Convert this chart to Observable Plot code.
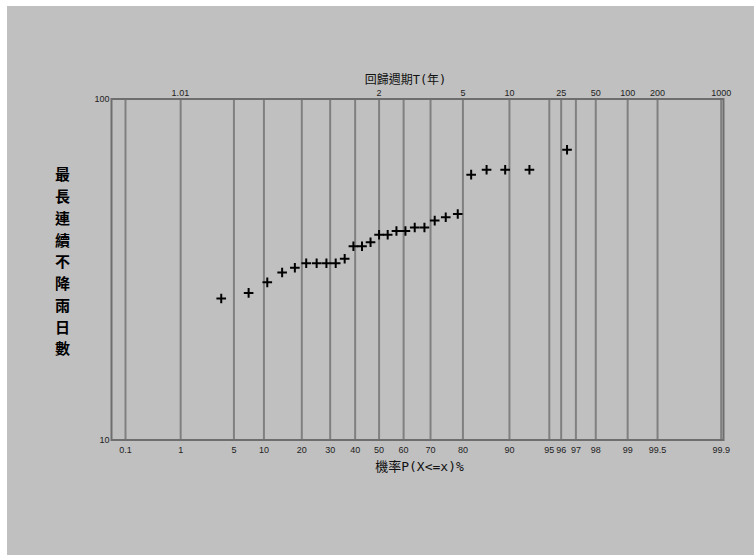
<!DOCTYPE html>
<html><head><meta charset="utf-8">
<script src="https://cdn.jsdelivr.net/npm/d3@7"></script>
<script src="https://cdn.jsdelivr.net/npm/@observablehq/plot@0.6"></script>
<style>
html,body{margin:0;padding:0;background:#fff;}
#chart{position:absolute;left:7px;top:6px;}
</style></head><body><div id="chart"></div>
<script>
// observed annual maxima of consecutive no-rain days, sorted ascending
const days = [26,27,29,31,32,33,33,33,33,34,37,37,38,40,40,41,41,42,42,44,45,46,60,62,62,62,71];
// bottom axis: non-exceedance probability (%)
const probTicks = [0.1,1,5,10,20,30,40,50,60,70,80,90,95,96,97,98,99,99.5,99.9];
const probLabels = ["0.1","1","5","10","20","30","40","50","60","70","80","90","95","96","97","98","99","99.5","99.9"];
// top axis: return period T (years)
const periodTicks = [1.01,2,5,10,25,50,100,200,1000];
const periodLabels = ["1.01","2","5","10","25","50","100","200","1000"];
// y axis
const yTicks = [10,100];
const yLabels = ["10","100"];
const xTitle = "機率P(X<=x)%";
const topTitle = "回歸週期T(年)";
const yTitle = "最長連續不降雨日數";

// inverse standard normal (Acklam)
function invNorm(p){
  const a=[-3.969683028665376e+01,2.209460984245205e+02,-2.759285104469687e+02,1.383577518672690e+02,-3.066479806614716e+01,2.506628277459239e+00];
  const b=[-5.447609879822406e+01,1.615858368580409e+02,-1.556989798598866e+02,6.680131188771972e+01,-1.328068155288572e+01];
  const c=[-7.784894002430293e-03,-3.223964580411365e-01,-2.400758277161838e+00,-2.549732539343734e+00,4.374664141464968e+00,2.938163982698783e+00];
  const d=[7.784695709041462e-03,3.224671290700398e-01,2.445134137142996e+00,3.754408661907416e+00];
  const pl=0.02425, ph=1-pl; let q,r;
  if(p<pl){q=Math.sqrt(-2*Math.log(p));return (((((c[0]*q+c[1])*q+c[2])*q+c[3])*q+c[4])*q+c[5])/((((d[0]*q+d[1])*q+d[2])*q+d[3])*q+1);}
  if(p<=ph){q=p-0.5;r=q*q;return (((((a[0]*r+a[1])*r+a[2])*r+a[3])*r+a[4])*r+a[5])*q/(((((b[0]*r+b[1])*r+b[2])*r+b[3])*r+b[4])*r+1);}
  q=Math.sqrt(-2*Math.log(1-p));return -(((((c[0]*q+c[1])*q+c[2])*q+c[3])*q+c[4])*q+c[5])/((((d[0]*q+d[1])*q+d[2])*q+d[3])*q+1);
}
// Pearson type III frequency factor (Wilson-Hilferty), skew g
const g = 0.29;
function K(p){ const z = invNorm(p); return (2/g)*(Math.pow(1 + g*z/6 - g*g/36, 3) - 1); }

const kLo = K(0.001), kHi = K(0.999);
const span = kHi - kLo;
const xDomain = [kLo - span*0.0235, kHi + span*0.0039];

const n = days.length;
const tickFont = "Liberation Sans, Arial, sans-serif";
const cjk = "DejaVu Sans Mono, 'Noto Sans CJK TC', sans-serif";

const chart = Plot.plot({
  width: 747, height: 549,
  marginLeft: 104, marginRight: 31, marginTop: 92.5, marginBottom: 115.5,
  style: {background: "#c0c0c0", overflow: "visible"},
  x: {domain: xDomain, axis: null},
  y: {type: "log", domain: [10, 100], axis: null},
  marks: [
    Plot.ruleX(probTicks, {x: d => K(d/100), y1: 10, y2: 100, stroke: "#808080", strokeWidth: 2}),
    Plot.frame({stroke: "#6e6e6e", strokeWidth: 2}),
    Plot.dot(days, {x: (d,i) => K((i+1)/(n+1)), y: d => d, symbol: "plus", r: 3.2, stroke: "#000", strokeWidth: 2}),
    Plot.text(probTicks, {x: d => K(d/100), y: 10, text: (d,i) => probLabels[i], dy: 10, fontSize: 9, fill: "#222", fontFamily: tickFont}),
    Plot.text(periodTicks, {x: T => K(1 - 1/T), y: 100, text: (d,i) => periodLabels[i], dy: -6, fontSize: 9, fill: "#222", fontFamily: tickFont}),
    Plot.text(yTicks, {y: d => d, frameAnchor: "left", textAnchor: "end", dx: -2, text: (d,i) => yLabels[i], fontSize: 9, fill: "#222", fontFamily: tickFont}),
    Plot.text([topTitle], {frameAnchor: "top", textAnchor: "middle", dy: -24, dx: -12, text: d => d, fontSize: 12, fill: "#111", fontFamily: cjk, letterSpacing: 0.5}),
    Plot.text([xTitle], {frameAnchor: "bottom", textAnchor: "middle", dy: 31, dx: 2, text: d => d, fontSize: 13, fill: "#111", fontFamily: cjk, letterSpacing: 3}),
    Plot.text([yTitle.split("").join("\n")], {frameAnchor: "left", textAnchor: "middle", dx: -49, dy: -9, text: d => d, fontSize: 15, lineHeight: 21.75/15, fontWeight: "bold", fill: "#000", fontFamily: "'Noto Sans CJK TC', sans-serif"})
  ]
});
document.getElementById("chart").appendChild(chart);
</script></body></html>
